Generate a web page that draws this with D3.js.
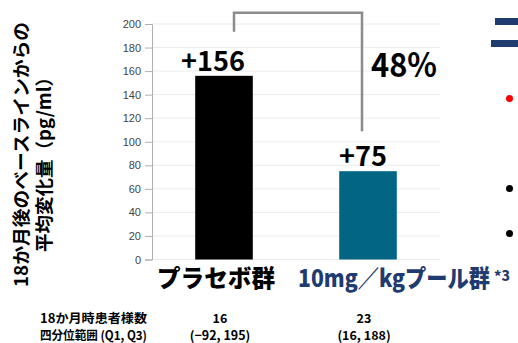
<!DOCTYPE html>
<html>
<head>
<meta charset="utf-8">
<script src="https://cdn.jsdelivr.net/npm/d3@7"></script>
<style>
  html, body { margin: 0; padding: 0; background: #fff; }
  svg { display: block; }
</style>
</head>
<body>
<svg id="chart" width="518" height="343"></svg>
<script>
// Mean change from baseline at 18 months (pg/ml)
const groups = ["プラセボ群", "10mg／kgプール群"];
const meanChange = [156, 75];
const patientCounts = [16, 23];
const iqrRanges = ["(−92, 195)", "(16, 188)"];
const barColors = ["#000000", "#036584"];
const labelColors = ["#000000", "#1f3b70"];
const yTicks = [0, 20, 40, 60, 80, 100, 120, 140, 160, 180, 200];
const reductionLabel = "48%";

const svg = d3.select("#chart");
const JP = "'Noto Sans CJK JP', 'Noto Sans', sans-serif";
const LAT = "'Liberation Sans', Arial, sans-serif";

const x = d3.scaleBand().domain(groups).range([152, 440])
  .paddingInner(0.6).paddingOuter(0.3);
const y = d3.scaleLinear().domain([0, 200]).range([259.5, 24]);

// horizontal gridlines
svg.append("g").selectAll("line").data(yTicks).join("line")
  .attr("x1", 152).attr("x2", 440)
  .attr("y1", d => y(d)).attr("y2", d => y(d))
  .attr("stroke", "#ececec").attr("stroke-width", 1);

// y axis
const yAxis = svg.append("g").attr("transform", "translate(152,0)")
  .call(d3.axisLeft(y).tickValues(yTicks).tickSize(7).tickPadding(4));
yAxis.select(".domain").attr("stroke", "#b0b0b0");
yAxis.selectAll(".tick line").attr("stroke", "#b0b0b0");
yAxis.selectAll(".tick text").attr("font-family", LAT).attr("font-size", 11)
  .attr("fill", "#444");

// bars
svg.append("g").selectAll("rect").data(groups).join("rect")
  .attr("x", d => x(d)).attr("width", x.bandwidth())
  .attr("y", (d, i) => y(meanChange[i]))
  .attr("height", (d, i) => y(0) - y(meanChange[i]))
  .attr("fill", (d, i) => barColors[i]);

// value labels above bars
const labelShift = [-11, -5];
const labelWidth = [64, 48];
svg.append("g").selectAll("text").data(groups).join("text")
  .attr("x", (d, i) => x(d) + x.bandwidth() / 2 + labelShift[i])
  .attr("y", (d, i) => y(meanChange[i]) - 5)
  .attr("text-anchor", "middle")
  .attr("font-family", JP).attr("font-weight", 700).attr("font-size", 27)
  .attr("textLength", (d, i) => labelWidth[i]).attr("lengthAdjust", "spacingAndGlyphs")
  .attr("fill", "#000")
  .text((d, i) => "+" + meanChange[i]);

// comparison bracket between the two groups
const bx1 = x(groups[0]) + x.bandwidth() / 2 + 10;
const bx2 = x(groups[1]) + x.bandwidth() / 2 - 6;
svg.append("path")
  .attr("d", `M${bx1},${y(193.5)} V${y(209.5)} H${bx2} V${y(109)}`)
  .attr("fill", "none").attr("stroke", "#8c8c8c").attr("stroke-width", 2.5);

svg.append("text")
  .attr("x", bx2 + 9).attr("y", y(155))
  .attr("font-family", JP).attr("font-weight", 700).attr("font-size", 33)
  .attr("textLength", 66).attr("lengthAdjust", "spacingAndGlyphs")
  .attr("fill", "#000").text(reductionLabel);

// category labels, squeezed horizontally to a target width
function squeezedLabel(parent, text, x0, y0, width, size, color) {
  const g = parent.append("g");
  const t = g.append("text")
    .attr("font-family", JP).attr("font-weight", 900).attr("font-size", size)
    .attr("fill", color).text(text);
  const natural = t.node().getComputedTextLength();
  g.attr("transform", `translate(${x0},${y0}) scale(${width / natural},1)`);
  return g;
}
const cat = svg.append("g");
squeezedLabel(cat, groups[0], 157, 287, 118, 24, labelColors[0]);
squeezedLabel(cat, groups[1], 298, 287, 192, 24, labelColors[1]);
cat.append("text")
  .attr("x", 494).attr("y", 281)
  .attr("font-family", JP).attr("font-weight", 900).attr("font-size", 14)
  .attr("fill", labelColors[1]).text("*3");

// y axis title (two rotated lines)
const yt = svg.append("g").attr("transform", "rotate(-90)")
  .attr("font-family", JP).attr("font-weight", 700).attr("font-size", 18.5)
  .attr("fill", "#000");
yt.append("text").attr("x", -287).attr("y", 28)
  .attr("textLength", 265).attr("lengthAdjust", "spacingAndGlyphs")
  .text("18か月後のベースラインからの");
yt.append("text").attr("x", -252).attr("y", 51)
  .attr("textLength", 184).attr("lengthAdjust", "spacingAndGlyphs")
  .text("平均変化量（pg/ml）");

// patient table below the chart
const table = svg.append("g").attr("font-family", JP).attr("font-size", 12.5)
  .attr("font-weight", 700).attr("fill", "#000");
table.append("text").attr("x", 40).attr("y", 322.5)
  .attr("textLength", 107).attr("lengthAdjust", "spacingAndGlyphs")
  .text("18か月時患者様数");
table.append("text").attr("x", 40).attr("y", 340)
  .attr("textLength", 107).attr("lengthAdjust", "spacingAndGlyphs")
  .text("四分位範囲 (Q1, Q3)");
table.selectAll(".n").data(groups).join("text").attr("class", "n")
  .attr("x", d => x(d) + x.bandwidth() / 2 - 4).attr("y", 322.5)
  .attr("text-anchor", "middle").text((d, i) => patientCounts[i]);
table.selectAll(".q").data(groups).join("text").attr("class", "q")
  .attr("x", d => x(d) + x.bandwidth() / 2 - 4).attr("y", 340)
  .attr("text-anchor", "middle").text((d, i) => iqrRanges[i]);

// right-hand margin: heading bars and bullets
const side = svg.append("g");
side.append("rect").attr("x", 495).attr("y", 18).attr("width", 30).attr("height", 7).attr("fill", "#1f3b70");
side.append("rect").attr("x", 491).attr("y", 40).attr("width", 30).attr("height", 7).attr("fill", "#1f3b70");
side.append("circle").attr("cx", 509.5).attr("cy", 98.5).attr("r", 3.5).attr("fill", "#ff0000");
side.append("circle").attr("cx", 509.5).attr("cy", 188.5).attr("r", 3.5).attr("fill", "#000");
side.append("circle").attr("cx", 509.5).attr("cy", 233.5).attr("r", 3.5).attr("fill", "#000");
</script>
</body>
</html>
